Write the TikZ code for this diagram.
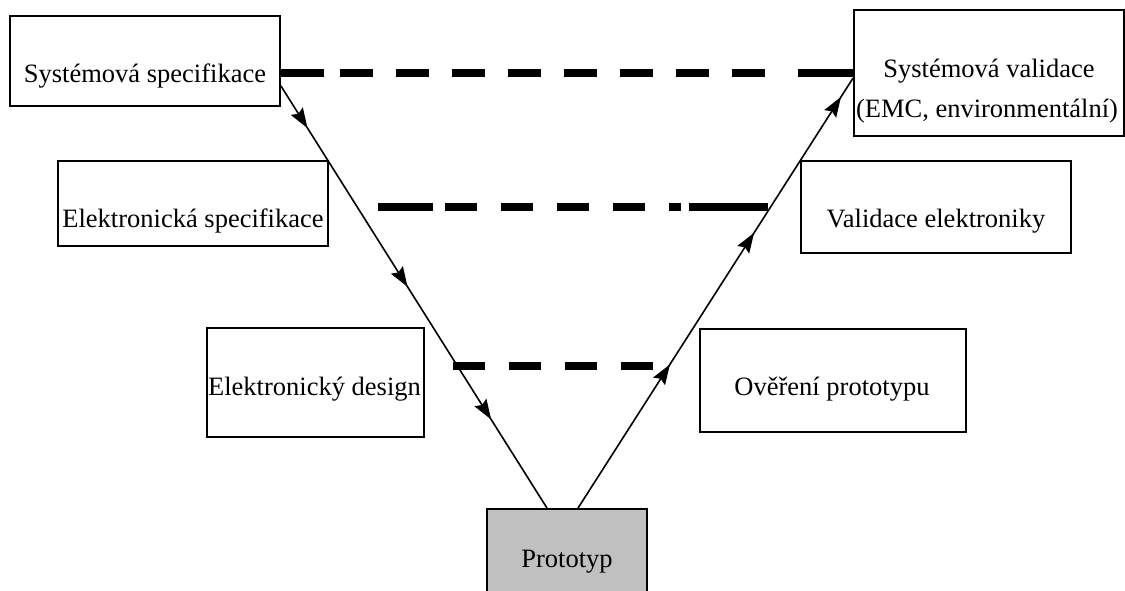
\documentclass[tikz,border=0pt]{standalone}
\usepackage{fontspec}
\setmainfont{Liberation Serif}
\newfontfamily\timesfam{Liberation Serif}
\usetikzlibrary{arrows.meta,decorations.markings,calc}
\definecolor{protogray}{RGB}{192,192,192}
\begin{document}
\begin{tikzpicture}[x=1pt,y=-1pt,
  box/.style={draw,line width=1.8pt,inner sep=0pt},
  lbl/.style={anchor=base,inner sep=0pt,font=\timesfam\fontsize{26.5}{40}\selectfont},
  flow/.style={line width=1.6pt},
  bar/.style={line width=8pt,line cap=butt},
  tipshape/.tip={Stealth[length=20pt,width=14pt,inset=3pt]},
]
\useasboundingbox (0,0) rectangle (1125,590);

% boxes
\node[box,minimum width=270,minimum height=90] (s1) at (145,61) {};
\node[box,minimum width=270,minimum height=126] (v1) at (989,73) {};
\node[box,minimum width=270,minimum height=85] (e1) at (193,203.5) {};
\node[box,minimum width=270,minimum height=92] (v2) at (936,207) {};
\node[box,minimum width=217,minimum height=109] (d1) at (315.5,382.5) {};
\node[box,minimum width=266,minimum height=103] (v3) at (833,380.5) {};
\node[box,fill=protogray,minimum width=160,minimum height=102] (p) at (567,560) {};

% labels
\node[lbl] (t1) at (145,82) {Systémová specifikace};
\node[lbl] (t2a) at (989,77) {Systémová validace};
\node[lbl] (t2b) at (987,117) {(EMC, environmentální)};
\node[lbl] (t3) at (193,227) {Elektronická specifikace};
\node[lbl] (t4) at (936,227) {Validace elektroniky};
\node[lbl] (t5) at (314.5,395) {Elektronický design};
\node[lbl] (t6) at (832,395) {Ověření prototypu};
\node[lbl] (t7) at (567,567) {Prototyp};

% connector end points
\coordinate (lstart) at ($(s1.south east)+(0,-21)$);
\coordinate (lend) at ($(p.north)+(-20,0)$);
\coordinate (rstart) at ($(p.north)+(11,0)$);
\coordinate (rend) at ($(v1.west)+(0,5)$);

\draw[flow,postaction={decorate},decoration={markings,
  mark=at position 0.10 with {\arrow{tipshape}},
  mark=at position 0.476 with {\arrow{tipshape}},
  mark=at position 0.79 with {\arrow{tipshape}}}]
  (lstart) -- (lend);
\draw[flow,postaction={decorate},decoration={markings,
  mark=at position 0.334 with {\arrow{tipshape}},
  mark=at position 0.64 with {\arrow{tipshape}},
  mark=at position 0.956 with {\arrow{tipshape}}}]
  (rstart) -- (rend);

% dashed bars
\draw[bar,dash pattern=on 43pt off 16pt on 33pt off 23pt on 33pt off 23pt on 33pt off 23pt on 33pt off 23pt on 33pt off 23pt on 33pt off 23pt on 33pt off 23pt on 33pt off 33pt on 56pt off 100pt]
  (s1.east |- v1.west) -- (v1.west);
\coordinate (m1) at (378,207);
\coordinate (m2) at (768,207);
\draw[bar,dash pattern=on 55pt off 12pt on 32pt off 24pt on 32pt off 24pt on 32pt off 24pt on 32pt off 24pt on 12pt off 8pt on 79pt off 100pt]
  (m1) -- (m2);
\coordinate (b1) at (453,366);
\coordinate (b2) at (653,366);
\draw[bar,dash pattern=on 32pt off 24pt] (b1) -- (b2);
\end{tikzpicture}
\end{document}
